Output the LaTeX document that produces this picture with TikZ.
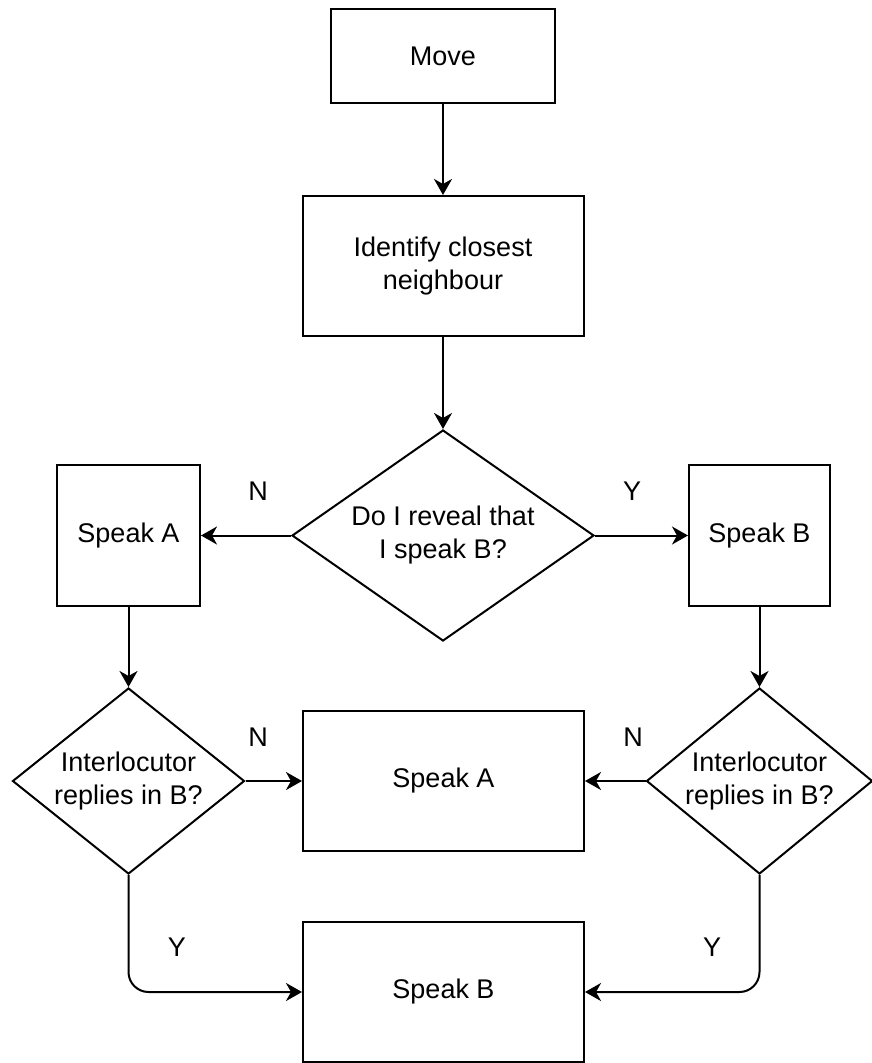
\documentclass[tikz,border=0pt]{standalone}
\usepackage{fontspec}
\setmainfont{Liberation Sans}
\usetikzlibrary{shapes.geometric,arrows.meta}
\begin{document}
\begin{tikzpicture}[x=1pt,y=-1pt,
  every node/.style={font=\fontsize{27}{33}\selectfont, align=center, inner sep=0pt},
  box/.style={draw, line width=2pt, rectangle},
  dec/.style={draw, line width=2pt, diamond},
  lbl/.style={},
  conn/.style={line width=2pt, -{Stealth[length=16pt,width=18pt,inset=5pt]}}
]
\useasboundingbox (0,0) rectangle (872,1063);
\node[box, minimum width=224pt, minimum height=94pt] (move) at (443,56) {Move};
\node[box, minimum width=281pt, minimum height=140pt] (ident) at (443,266) {Identify closest\\neighbour};
\node[dec, shape aspect=1.43, minimum width=302pt, minimum height=211pt] (d1) at (443,535.5) {Do I reveal that\\I speak B?};
\node[box, minimum width=143pt, minimum height=141pt] (spA1) at (128.5,535.5) {Speak A};
\node[box, minimum width=141pt, minimum height=141pt] (spB1) at (759.5,535.5) {Speak B};
\node[dec, shape aspect=1.25, minimum width=232pt, minimum height=186pt] (d2l) at (128.5,781) {Interlocutor\\replies in B?};
\node[dec, shape aspect=1.215, minimum width=226pt, minimum height=186pt] (d2r) at (759.5,781) {Interlocutor\\replies in B?};
\node[box, minimum width=281pt, minimum height=140pt] (spA2) at (443.5,781) {Speak A};
\node[box, minimum width=281pt, minimum height=140pt] (spB2) at (443.5,992) {Speak B};

\draw[conn] (move) -- (ident);
\draw[conn] (ident) -- (d1);
\draw[conn] (d1.west) -- (spA1.east);
\draw[conn] (d1.east) -- (spB1.west);
\draw[conn] (spA1) -- (d2l);
\draw[conn] (spB1) -- (d2r);
\draw[conn] (d2l.east) -- (spA2.west);
\draw[conn] (d2r.west) -- (spA2.east);
\draw[conn, rounded corners=20pt] (d2l.south) |- (spB2.west);
\draw[conn, rounded corners=20pt] (d2r.south) |- (spB2.east);

\node[lbl] (n1) at (258,491) {N};
\node[lbl] (y1) at (632,491) {Y};
\node[lbl] (n2) at (258,737) {N};
\node[lbl] (n3) at (633,737) {N};
\node[lbl] (y2) at (177,947) {Y};
\node[lbl] (y3) at (712,947) {Y};
\end{tikzpicture}
\end{document}
